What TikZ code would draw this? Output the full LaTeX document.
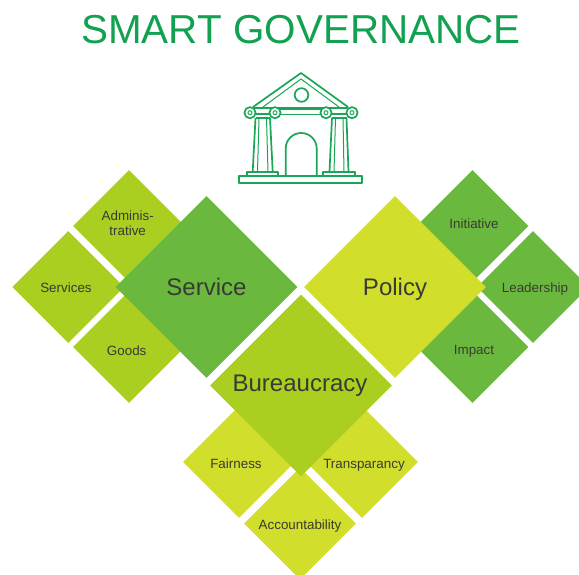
\documentclass[tikz,border=0pt]{standalone}
\usepackage{fontspec}
\setmainfont{Liberation Sans}
\usetikzlibrary{shapes.geometric}
\definecolor{limeC}{HTML}{D2DE2C}
\definecolor{midC}{HTML}{ABCF20}
\definecolor{greenC}{HTML}{6AB93E}
\definecolor{iconC}{HTML}{1BA557}
\definecolor{titleC}{HTML}{12A150}
\definecolor{textC}{HTML}{3A3A34}
\tikzset{
  big/.style={diamond,aspect=1,inner sep=0pt,minimum width=182pt,minimum height=182pt},
  small/.style={diamond,aspect=1,inner sep=0pt,minimum width=112pt,minimum height=112pt},
  bigtxt/.style={text=textC,font=\fontsize{24}{28}\selectfont,inner sep=0pt,align=center,anchor=base},
  smalltxt/.style={text=textC,font=\fontsize{13.4}{15}\selectfont,inner sep=0pt,align=center,anchor=base},
  iconline/.style={draw=iconC,line width=1.7pt,line join=round},
  iconthin/.style={draw=iconC,line width=1pt,line join=round}
}
\begin{document}
\begin{tikzpicture}[x=1pt,y=-1pt]
\useasboundingbox (0,0) rectangle (579,575);
\clip (0,0) rectangle (579,575);
\fill[white] (0,0) rectangle (579,575);
\node[text=titleC,font=\fontsize{40.4}{46}\selectfont,inner sep=0pt,anchor=base] (title) at (301,44) {SMART GOVERNANCE};
% icon
\draw[iconline] (253,107) -- (301,73) -- (348,107);
\draw[iconthin] (263,107) -- (301,79) -- (339,107);
\draw[iconline] (253,108) -- (348,108);
\draw[iconline] (301.5,95) circle (6.8);
\draw[iconline] (275,109.5) -- (326,109.5) (275,114.5) -- (326,114.5);
\foreach \cx in {250,275,326,352}{
  \draw[iconline,fill=white] (\cx,112.7) circle (5.6);
  \draw[iconthin] (\cx,112.7) circle (2);
}
\draw[iconline] (256,114) -- (270,114) (256,118) -- (270,118);
\draw[iconline] (255.5,118) -- (252.7,171.7) (270,118) -- (272.7,171.7);
\draw[iconthin] (259,118) -- (257.5,171.7) (266.5,118) -- (268,171.7);
\draw[iconline] (331.5,114) -- (346.5,114) (331.5,118) -- (346.5,118);
\draw[iconline] (332,118) -- (329.5,171.7) (346.5,118) -- (348.5,171.7);
\draw[iconthin] (335.5,118) -- (334,171.7) (343,118) -- (344,171.7);
\draw[iconline] (246.7,175.5) -- (246.7,171.7) -- (278.3,171.7) -- (278.3,175.5);
\draw[iconline] (323,175.5) -- (323,171.7) -- (355,171.7) -- (355,175.5);
\draw[iconline] (239.3,175.7) rectangle (361.7,182.7);
\draw[iconline] (285.7,176) -- (285.7,148.5) arc[start angle=180,end angle=0,radius=15.5,y radius=-15.5] -- (316.7,176) -- cycle;
% small diamonds
\node[small,fill=midC] (adm) at (129,226) {};
\node[small,fill=midC] (srv) at (68.3,287) {};
\node[small,fill=midC] (goods) at (129,347) {};
\node[small,fill=greenC] (ini) at (472.5,226) {};
\node[small,fill=greenC] (lead) at (533,287) {};
\node[small,fill=greenC] (imp) at (472.5,347) {};
\node[small,fill=limeC] (fair) at (239,462) {};
\node[small,fill=limeC] (trans) at (362,462) {};
\node[small,fill=limeC] (acc) at (300,523.5) {};
% big diamonds
\node[big,fill=greenC] (service) at (206.5,287) {};
\node[big,fill=limeC] (policy) at (395,287) {};
\node[big,fill=midC] (bur) at (301,385.5) {};
% labels
\node[bigtxt] (tservice) at (206.5,295) {Service};
\node[bigtxt] (tpolicy) at (395,295) {Policy};
\node[bigtxt] (tbur) at (300,391.7) {Bureaucracy};
\node[smalltxt,anchor=base] (tadm) at (127.7,221) {Adminis-};
\node[smalltxt] (tadmb) at (127.7,236) {trative};
\node[smalltxt] (tsrv) at (66,292) {Services};
\node[smalltxt] (tgoods) at (126.7,355.5) {Goods};
\node[smalltxt] (tini) at (474,229) {Initiative};
\node[smalltxt] (tlead) at (535,292) {Leadership};
\node[smalltxt] (timp) at (474,354) {Impact};
\node[smalltxt] (tfair) at (236,468.5) {Fairness};
\node[smalltxt] (ttrans) at (364,468.5) {Transparancy};
\node[smalltxt] (tacc) at (300,529) {Accountability};
\end{tikzpicture}
\end{document}
